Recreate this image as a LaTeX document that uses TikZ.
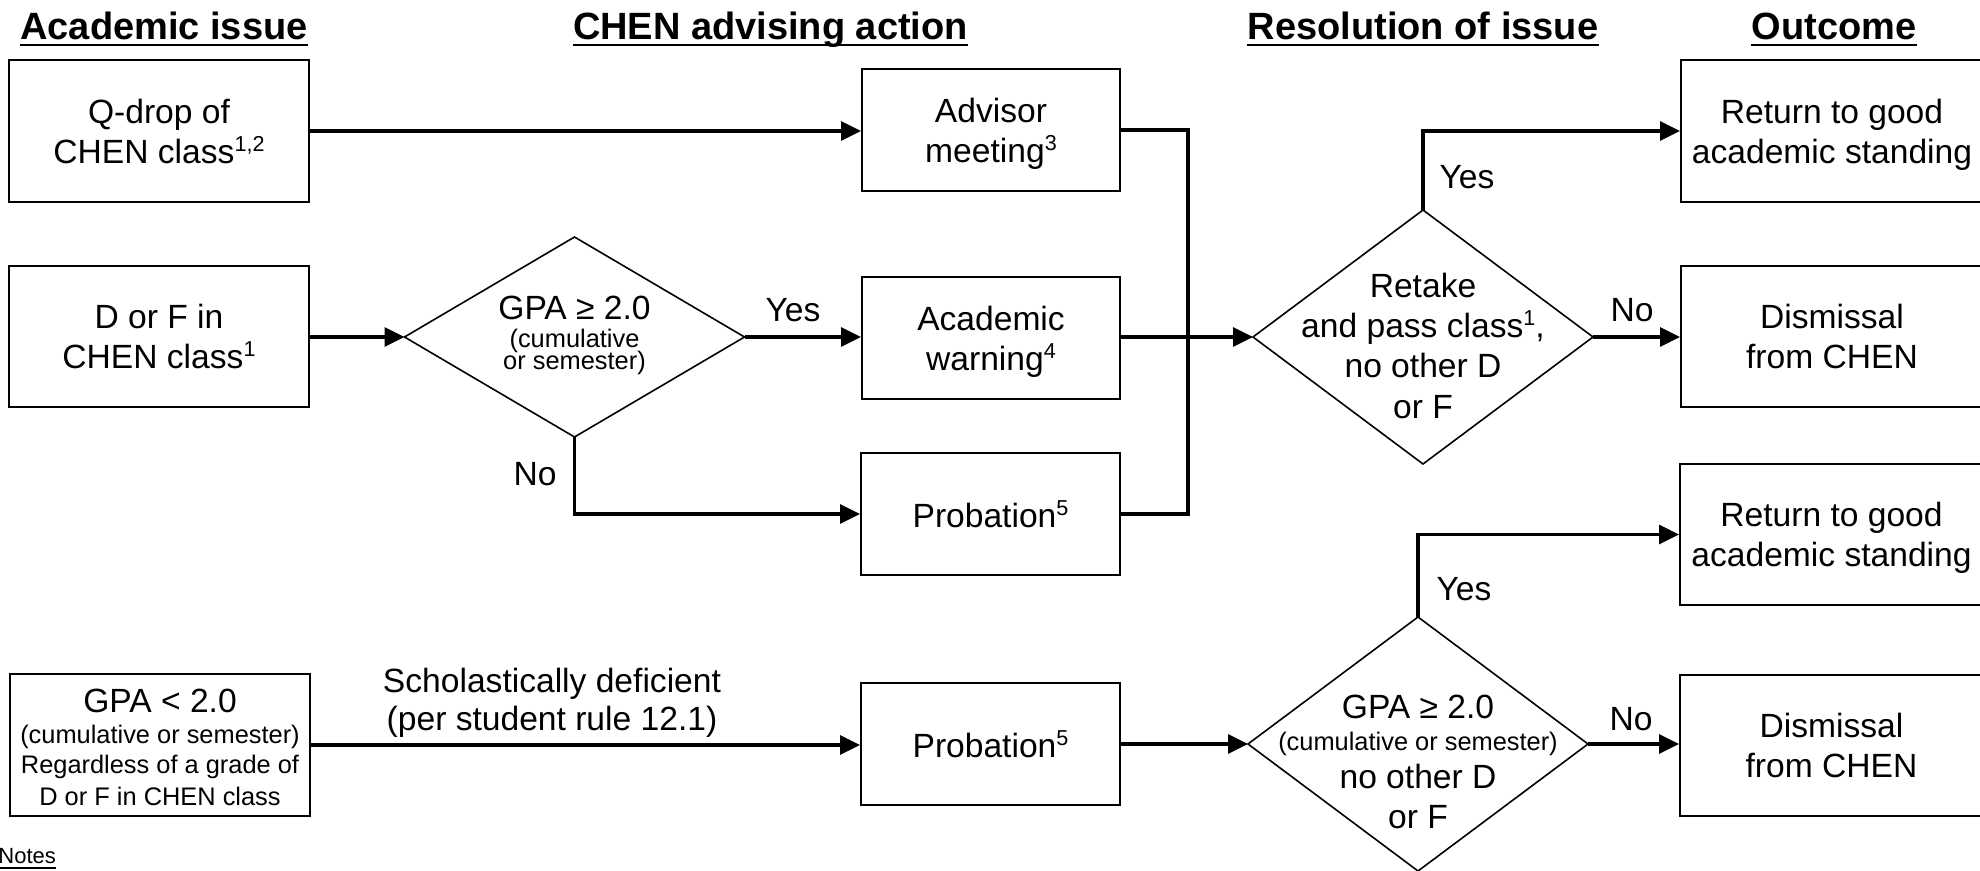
\documentclass[tikz,border=0pt]{standalone}
\usepackage{fontspec}
\setmainfont{Liberation Sans}
\usetikzlibrary{shapes.geometric,arrows.meta}
\newcommand{\supr}[1]{\raisebox{0.36em}{\fontsize{10.8}{10.8}\selectfont #1}}
\begin{document}
\begin{tikzpicture}[x=0.5pt,y=-0.5pt,
  body/.style={font=\fontsize{16.8}{20}\selectfont},
  smalltxt/.style={font=\fontsize{12.7}{14}\selectfont},
  box/.style={draw, line width=1pt, align=center, inner sep=0pt, text depth=0pt, body},
  dia/.style={draw, diamond, line width=0.8pt, inner sep=0pt, outer sep=0pt},
  head/.style={font=\bfseries\fontsize{19}{22}\selectfont, inner sep=0pt, anchor=base},
  uline/.style={line width=1.2pt},
  wire/.style={line width=1.6pt},
  conn/.style={wire, -{Triangle[length=10pt,width=9.5pt]}},
  ln/.style={inner sep=0pt, anchor=base},
]
\useasboundingbox (0,0) rectangle (1980,871);
\clip (0,0) rectangle (1980,871);

% headings
\node[head] (h1) at (164,39.5) {Academic issue};
\node[head] (h2) at (770.5,39.5) {CHEN advising action};
\node[head] (h3) at (1423,39.5) {Resolution of issue};
\node[head] (h4) at (1834,39.5) {Outcome};
\foreach \h in {h1,h2,h3,h4}
  \draw[uline] ([yshift=-2.9pt]\h.base west) -- ([yshift=-2.9pt]\h.base east);

% left column
\node[box, minimum width=150pt, minimum height=71pt] (q) at (159,131) {Q-drop of\\CHEN class\supr{1,2}};
\node[box, minimum width=150pt, minimum height=70.5pt] (df) at (159,336.5) {D or F in\\CHEN class\supr{1}};
\node[box, minimum width=150pt, minimum height=71pt] (gpa) at (160,745) {};
\node[ln, body] (g1) at (160,712) {GPA < 2.0};
\node[ln, smalltxt] (g2) at (160,743) {(cumulative or semester)};
\node[ln, smalltxt] (g3) at (160,773) {Regardless of a grade of};
\node[ln, smalltxt] (g4) at (160,805) {D or F in CHEN class};

% diamond 1
\node[dia, minimum width=170pt, minimum height=100pt] (d1) at (574.5,337) {};
\node[ln, body] (d1a) at (574.5,320) {GPA ≥ 2.0};
\node[ln, smalltxt] (d1b) at (574.5,348) {(cumulative};
\node[ln, smalltxt] (d1c) at (574.5,370) {or semester)};

% advising column
\node[box, minimum width=129pt, minimum height=61pt] (adv) at (991,130) {Advisor\\meeting\supr{3}};
\node[box, minimum width=129pt, minimum height=61pt] (warn) at (991,338) {Academic\\warning\supr{4}};
\node[box, minimum width=129.5pt, minimum height=61pt] (prob1) at (990.5,514) {Probation\supr{5}};
\node[box, minimum width=129.5pt, minimum height=61pt] (prob2) at (990.5,744) {Probation\supr{5}};

% diamond 2
\node[dia, minimum width=170pt, minimum height=127pt] (d2) at (1423,337) {};
\node[ln, body] (d2a) at (1423,298) {Retake};
\node[ln, body] (d2b) at (1423,338) {and pass class\supr{1},};
\node[ln, body] (d2c) at (1423,378) {no other D};
\node[ln, body] (d2d) at (1423,418) {or F};

% diamond 3
\node[dia, minimum width=170pt, minimum height=127pt] (d3) at (1418,744) {};
\node[ln, body] (d3a) at (1418,718) {GPA ≥ 2.0};
\node[ln, smalltxt] (d3b) at (1418,750) {(cumulative or semester)};
\node[ln, body] (d3c) at (1418,788) {no other D};
\node[ln, body] (d3d) at (1418,828) {or F};

% outcomes
\node[box, minimum width=151pt, minimum height=71pt] (ret1) at (1832,131) {Return to good\\academic standing};
\node[box, minimum width=151pt, minimum height=70.5pt] (dis1) at (1832,336.5) {Dismissal\\from CHEN};
\node[box, minimum width=151.5pt, minimum height=70.5pt] (ret2) at (1831.5,534.5) {Return to good\\academic standing};
\node[box, minimum width=151.5pt, minimum height=70.5pt] (dis2) at (1831.5,745.5) {Dismissal\\from CHEN};

% connectors
\coordinate (j) at (1188,337);
\draw[conn] (q.east) -- (q.east -| adv.west);
\draw[conn] (df.east |- d1.west) -- (d1.west);
\draw[conn] (d1.east) -- (d1.east -| warn.west);
\draw[conn] (d1.south) |- (prob1.west);
\draw[wire] (adv.east) -| (j);
\draw[wire] (prob1.east) -| (j);
\draw[conn] (warn.east |- d2.west) -- (d2.west);
\draw[conn] (d2.north) |- (ret1.west);
\draw[conn] (d2.east) -- (d2.east -| dis1.west);
\draw[conn] (gpa.east) -- (gpa.east -| prob2.west);
\draw[conn] (prob2.east |- d3.west) -- (d3.west);
\draw[conn] (d3.north) |- (ret2.west);
\draw[conn] (d3.east) -- (d3.east -| dis2.west);

% labels
\node[ln, body] (l1) at (793,322) {Yes};
\node[ln, body] (l2) at (535,485) {No};
\node[ln, body] (l3) at (1467,189) {Yes};
\node[ln, body] (l4) at (1632,322) {No};
\node[ln, body] (l5) at (1464,600) {Yes};
\node[ln, body] (l6) at (1631,730) {No};
\node[ln, body] (s1) at (552,692) {Scholastically deficient};
\node[ln, body] (s2) at (552,730) {(per student rule 12.1)};

% notes
\node[inner sep=0pt, anchor=base west, font=\fontsize{11}{12}\selectfont] (notes) at (-2,863) {Notes};
\draw[line width=1.1pt] ([yshift=-2.5pt]notes.base west) -- ([yshift=-2.5pt]notes.base east);
\end{tikzpicture}
\end{document}
